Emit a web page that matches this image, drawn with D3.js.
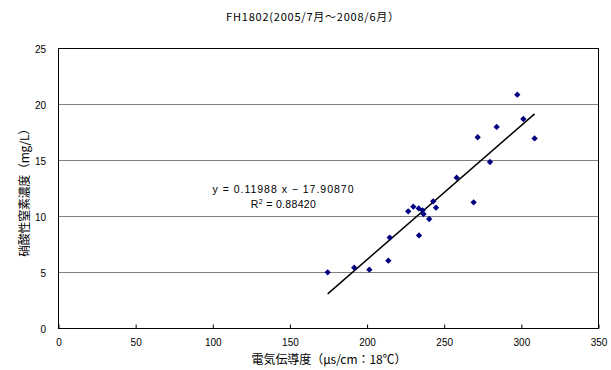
<!DOCTYPE html>
<html>
<head>
<meta charset="utf-8">
<script src="https://cdn.jsdelivr.net/npm/d3@7"></script>
<style>
  html, body { margin: 0; padding: 0; background: #fff; }
  svg text { fill: #000; font-family: "Noto Sans CJK JP", "Liberation Sans", sans-serif; }
  svg text.num { font-family: "Liberation Sans", "Noto Sans CJK JP", sans-serif; }
</style>
</head>
<body>
<svg id="chart" width="611" height="370"></svg>
<script>
// Electrical conductivity (µS/cm at 18°C) vs nitrate-nitrogen concentration (mg/L)
const conductivity = [297.7, 301.6, 284.3, 272.0, 308.9, 280.0, 258.4, 269.4, 243.2, 245.0, 230.3,
                      233.8, 227.0, 236.3, 236.9, 240.6, 234.0, 215.0, 214.1, 192.0, 201.8, 174.8];
const nitrate      = [20.83, 18.66, 17.95, 17.03, 16.93, 14.82, 13.42, 11.22, 11.31, 10.74, 10.83,
                      10.68, 10.42, 10.51, 10.18, 9.73, 8.27, 8.07, 6.01, 5.39, 5.21, 4.97];

// Linear regression reported on the chart
const slope = 0.11988;
const intercept = -17.90870;
const rSquared = 0.88420;

const xTicks = [0, 50, 100, 150, 200, 250, 300, 350];
const yTicks = [0, 5, 10, 15, 20, 25];

const titleText = "FH1802(2005/7月～2008/6月）";
const xTitle = "電気伝導度（μs/cm：18℃）";
const yTitle = "硝酸性窒素濃度（mg/L）";

const svg = d3.select("#chart");
const m = { left: 58, right: 598, top: 48, bottom: 328 };

const x = d3.scaleLinear().domain([0, 350]).range([m.left, m.right]);
const y = d3.scaleLinear().domain([0, 25]).range([m.bottom, m.top]);

// Spread a text run's letters so it spans the given width
function spread(sel, width) {
  const node = sel.node();
  const n = node.textContent.length;
  const w = node.getComputedTextLength();
  if (n > 1) sel.attr("letter-spacing", (width - w) / (n - 1));
  return sel;
}

// Horizontal gridlines
svg.append("g")
  .selectAll("line")
  .data(yTicks.filter(t => t > 0 && t < 25))
  .join("line")
  .attr("x1", m.left).attr("x2", m.right)
  .attr("y1", d => y(d) + 0.5).attr("y2", d => y(d) + 0.5)
  .attr("stroke", "#808080").attr("stroke-width", 1);

// Plot frame
svg.append("rect")
  .attr("x", m.left + 0.5).attr("y", m.top + 0.5)
  .attr("width", m.right - m.left).attr("height", m.bottom - m.top)
  .attr("fill", "none").attr("stroke", "#000").attr("stroke-width", 1);

// X axis: inward ticks and labels
const xAxis = d3.axisBottom(x).tickValues(xTicks).tickSizeInner(-4).tickSizeOuter(0).tickPadding(12);
const gx = svg.append("g").attr("transform", `translate(0.5,${m.bottom + 0.5})`).call(xAxis)
  .attr("font-family", null);
gx.select(".domain").remove();
gx.selectAll("line").attr("stroke", "#000");
gx.selectAll("text").attr("class", "num").attr("font-size", 10).attr("dy", "0.35em").attr("y", 14);

// Y axis labels
const yAxis = d3.axisLeft(y).tickValues(yTicks).tickSizeInner(0).tickSizeOuter(0).tickPadding(12);
const gy = svg.append("g").attr("transform", `translate(${m.left},0.5)`).call(yAxis)
  .attr("font-family", null);
gy.select(".domain").remove();
gy.selectAll("text").attr("class", "num").attr("font-size", 10).attr("dy", "0.35em");

// Trendline across the range of observed conductivity
const xExt = d3.extent(conductivity);
svg.append("line")
  .attr("x1", x(xExt[0])).attr("y1", y(slope * xExt[0] + intercept))
  .attr("x2", x(xExt[1])).attr("y2", y(slope * xExt[1] + intercept))
  .attr("stroke", "#000").attr("stroke-width", 1.5);

// Data points as diamonds
const diamond = d3.symbol().type(d3.symbolSquare).size(20);
svg.append("g")
  .selectAll("path")
  .data(d3.zip(conductivity, nitrate))
  .join("path")
  .attr("d", diamond)
  .attr("transform", d => `translate(${x(d[0])},${y(d[1])}) rotate(45)`)
  .attr("fill", "#000080");

// Regression label
const eq1 = svg.append("text").attr("class", "num").attr("text-anchor", "middle")
  .attr("font-size", 10.5).attr("x", 283.5).attr("y", 193)
  .text(`y = ${slope.toFixed(5)} x − ${Math.abs(intercept).toFixed(5)}`);
spread(eq1, 141);
const eq2 = svg.append("text").attr("class", "num").attr("text-anchor", "middle")
  .attr("font-size", 10.5).attr("x", 283.5).attr("y", 208);
eq2.append("tspan").text("R");
eq2.append("tspan").attr("font-size", 7).attr("dy", -4).text("2");
eq2.append("tspan").attr("dy", 4).text(` = ${rSquared.toFixed(5)}`);
spread(eq2, 65);

// Title and axis titles
const title = svg.append("text").attr("x", 313).attr("y", 21).attr("text-anchor", "middle")
  .attr("font-size", 11).text(titleText);
spread(title, 173);
const xt = svg.append("text").attr("x", 329).attr("y", 364).attr("text-anchor", "middle")
  .attr("font-size", 12).text(xTitle);
spread(xt, 155);
const yt = svg.append("text")
  .attr("transform", `translate(29,${(m.top + m.bottom) / 2 + 2}) rotate(-90)`)
  .attr("text-anchor", "middle").attr("font-size", 12).text(yTitle);
spread(yt, 134);
</script>
</body>
</html>
